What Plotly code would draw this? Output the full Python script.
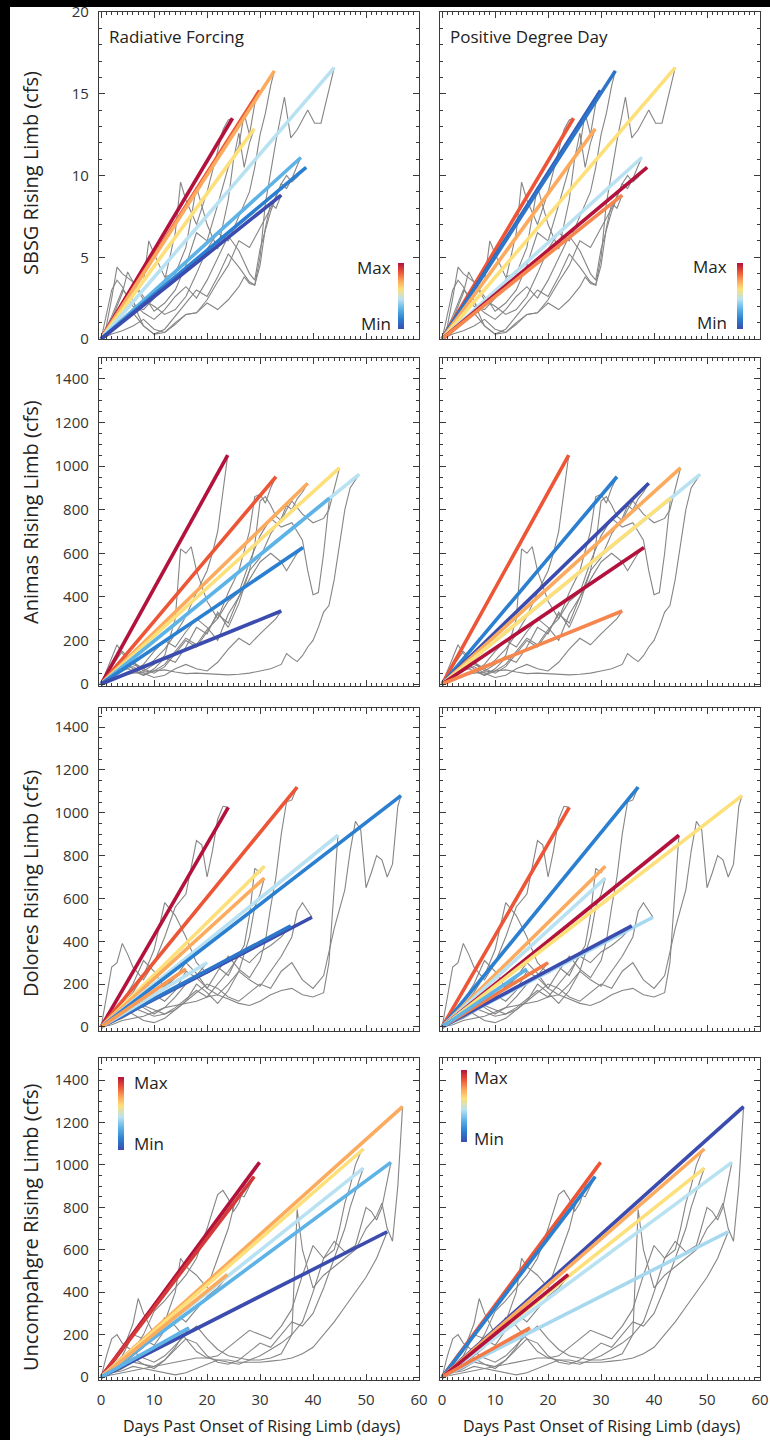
import plotly.graph_objects as go
from plotly.colors import sample_colorscale

W, H = 770, 1440

# ---------------- colour scale (Min -> Max) ----------------
COLORSCALE = [[0.0, '#3b4cae'], [0.15, '#2a7fd0'], [0.30, '#5db2e6'], [0.45, '#b8e2f2'],
              [0.60, '#fde07a'], [0.72, '#fcab5e'], [0.86, '#ec5536'], [1.0, '#b3123c']]

basin_titles = ["SBSG Rising Limb (cfs)", "Animas Rising Limb (cfs)",
                "Dolores Rising Limb (cfs)", "Uncompahgre Rising Limb (cfs)"]
column_titles = ["Radiative Forcing", "Positive Degree Day"]
x_title = "Days Past Onset of Rising Limb (days)"
x_ticks = [0, 10, 20, 30, 40, 50, 60]

# ---------------- SBSG ----------------
sbsg_peak_day = [24.8, 29.9, 32.7, 28.9, 44.0, 37.7, 38.7, 34.0]
sbsg_peak_q = [13.5, 15.2, 16.4, 12.85, 16.6, 11.1, 10.5, 8.8]
sbsg_rf = [1.0, 0.86, 0.72, 0.60, 0.45, 0.30, 0.15, 0.0]
sbsg_pdd = [0.86, 0.05, 0.12, 0.72, 0.60, 0.45, 1.0, 0.78]
sbsg_days = [
    [0, 1, 2, 3, 4, 5, 6, 8, 10, 12, 14, 15, 16, 18, 20, 22, 23, 24, 24.8],
    [0, 1, 2, 3, 4, 6, 8, 9, 10, 12, 14, 16, 18, 20, 22, 24, 26, 27, 28, 29, 29.9],
    [0, 2, 4, 5, 6, 8, 10, 12, 14, 16, 18, 20, 22, 24, 26, 28, 29, 30, 31, 32, 32.7],
    [0, 2, 4, 6, 8, 9, 10, 12, 14, 16, 18, 20, 22, 24, 25, 26, 27, 28, 28.9],
    [0, 2, 4, 6, 8, 10, 12, 14, 16, 18, 20, 22, 24, 26, 28, 29, 30, 31, 33, 34.6, 35.8, 37, 39, 40.3, 41.5, 43, 44],
    [0, 2, 4, 6, 8, 10, 12, 14, 16, 18, 20, 22, 24, 26, 28, 29, 30, 32, 34, 35, 36, 37, 37.7],
    [0, 2, 4, 6, 8, 10, 12, 14, 16, 18, 20, 22, 24, 26, 28, 30, 32, 34, 35, 36, 37, 38, 38.7],
    [0, 2, 4, 6, 7, 8, 10, 12, 14, 16, 18, 20, 22, 24, 26, 27, 28, 29, 30, 31, 32, 33, 34],
]
sbsg_flow = [
    [0, 1.5, 3.0, 3.6, 3.2, 2.5, 2.0, 1.8, 2.5, 3.6, 6.5, 9.6, 8.5, 7.0, 9.0, 11.5, 12.8, 13.4, 13.5],
    [0, 0.8, 2.5, 4.4, 4.0, 3.5, 2.6, 2.2, 1.7, 2.2, 3.0, 4.5, 6.5, 6.0, 8.2, 10.5, 11.8, 13.8, 12.5, 14.4, 15.2],
    [0, 1.2, 2.8, 4.1, 3.5, 2.4, 2.0, 1.5, 1.8, 2.6, 4.0, 5.5, 6.5, 6.0, 7.5, 9.0, 10.5, 12.5, 13.8, 15.5, 16.4],
    [0, 1.0, 1.8, 2.6, 3.5, 6.0, 5.2, 3.8, 4.0, 5.6, 9.3, 7.0, 5.5, 8.5, 11.0, 12.6, 10.5, 12.0, 12.85],
    [0, 0.5, 1.2, 1.6, 0.8, 0.3, 0.6, 1.4, 2.2, 3.0, 2.6, 3.8, 5.2, 4.4, 3.5, 3.3, 5.0, 8.3, 12.1, 14.8, 12.3, 12.8, 14.0, 13.2, 13.2, 15.2, 16.6],
    [0, 0.6, 1.5, 2.2, 1.6, 1.2, 1.8, 2.6, 3.2, 2.5, 3.6, 5.0, 6.3, 5.4, 4.0, 3.6, 5.5, 7.8, 9.5, 9.2, 9.8, 10.6, 11.1],
    [0, 0.3, 0.5, 0.8, 1.2, 0.6, 0.4, 1.0, 1.5, 1.6, 2.4, 3.5, 4.5, 6.0, 5.6, 6.8, 8.0, 9.5, 10.0, 9.6, 9.9, 10.3, 10.5],
    [0, 1.4, 3.0, 2.4, 1.5, 0.8, 0.3, 0.4, 0.9, 1.5, 1.6, 2.2, 1.8, 2.4, 3.2, 3.8, 3.4, 3.3, 4.5, 6.8, 8.3, 8.0, 8.8],
]

# ---------------- Animas ----------------
animas_peak_day = [23.9, 33.0, 39.0, 45.0, 48.7, 43.1, 38.1, 34.0]
animas_peak_q = [1050, 951, 921, 992, 962, 853, 626, 335]
animas_rf = [1.0, 0.86, 0.72, 0.60, 0.45, 0.30, 0.15, 0.0]
animas_pdd = [0.86, 0.15, 0.0, 0.72, 0.45, 0.60, 1.0, 0.78]
animas_days = [
    [0, 1, 2, 3, 4, 6, 8, 10, 12, 14, 16, 18, 20, 21, 22, 23, 23.9],
    [0, 2, 4, 6, 8, 10, 12, 14, 15, 16, 17, 18, 20, 22, 24, 26, 28, 29, 30, 31, 32, 33],
    [0, 2, 4, 6, 8, 10, 12, 14, 16, 18, 20, 22, 24, 26, 28, 30, 32, 34, 35, 36, 37, 38, 39],
    [0, 2, 4, 6, 8, 10, 12, 14, 16, 18, 20, 22, 24, 26, 28, 29, 30, 31, 32, 33, 34, 35, 36, 38, 40, 42, 43, 44, 45],
    [0, 2, 4, 6, 8, 10, 12, 14, 16, 18, 20, 22, 24, 26, 28, 30, 32, 34, 35, 36, 37, 38, 39, 40, 41, 42, 43, 44, 45, 46, 47, 48, 48.7],
    [0, 2, 4, 6, 8, 10, 12, 14, 16, 18, 20, 22, 24, 26, 28, 30, 32, 34, 36, 37, 38, 39, 40, 41, 42, 43.1],
    [0, 2, 4, 6, 8, 10, 12, 14, 16, 18, 20, 22, 24, 26, 28, 30, 32, 34, 35, 36, 37, 38.1],
    [0, 2, 4, 6, 8, 10, 12, 14, 16, 18, 20, 22, 24, 26, 28, 30, 32, 33, 34],
]
animas_flow = [
    [0, 60, 120, 180, 140, 90, 70, 110, 160, 230, 310, 420, 520, 600, 700, 880, 1050],
    [0, 80, 150, 100, 60, 90, 130, 300, 620, 600, 630, 520, 380, 300, 420, 520, 700, 860, 870, 830, 900, 951],
    [0, 30, 60, 100, 70, 50, 80, 140, 200, 170, 240, 320, 280, 400, 520, 580, 690, 760, 820, 800, 850, 880, 921],
    [0, 20, 40, 60, 40, 70, 120, 100, 170, 260, 230, 330, 260, 370, 520, 640, 840, 860, 820, 770, 750, 800, 840, 780, 740, 760, 800, 900, 992],
    [0, 20, 40, 50, 55, 60, 65, 55, 48, 50, 48, 45, 42, 45, 50, 60, 70, 90, 140, 120, 103, 130, 170, 200, 260, 330, 360, 480, 640, 800, 900, 940, 962],
    [0, 50, 110, 70, 40, 60, 90, 150, 210, 180, 250, 300, 380, 420, 560, 680, 760, 720, 740, 700, 660, 520, 410, 420, 600, 853],
    [0, 40, 80, 60, 90, 150, 200, 170, 240, 300, 260, 200, 320, 400, 480, 560, 600, 560, 520, 560, 600, 626],
    [0, 30, 60, 80, 50, 30, 40, 70, 90, 70, 60, 100, 160, 210, 180, 230, 280, 300, 335],
]

# ---------------- Dolores ----------------
dolores_peak_day = [24.0, 37.0, 30.8, 30.8, 44.7, 56.6, 39.8, 35.8, 20.0, 16.0]
dolores_peak_q = [1025, 1120, 750, 695, 895, 1080, 512, 472, 300, 270]
dolores_rf = [1.0, 0.86, 0.60, 0.72, 0.45, 0.15, 0.0, 0.12, 0.45, 0.75]
dolores_pdd = [0.86, 0.15, 0.72, 0.45, 1.0, 0.60, 0.42, 0.0, 0.80, 0.30]
dolores_days = [
    [0, 1, 2, 3, 4, 5, 6, 8, 10, 12, 14, 16, 18, 19, 20, 21, 22, 23, 24],
    [0, 2, 4, 6, 8, 10, 12, 14, 16, 18, 20, 22, 24, 26, 28, 30, 31, 32, 33, 34, 35, 36, 37],
    [0, 2, 4, 6, 8, 10, 12, 14, 16, 18, 20, 22, 24, 26, 27, 28, 29, 30, 30.8],
    [0, 2, 4, 6, 8, 10, 12, 14, 16, 18, 20, 22, 24, 26, 28, 29, 30, 30.8],
    [0, 2, 4, 6, 8, 10, 12, 14, 16, 18, 20, 22, 24, 26, 28, 30, 32, 34, 36, 38, 40, 42, 43, 44, 44.7],
    [0, 2, 4, 6, 8, 10, 12, 14, 16, 18, 20, 22, 24, 26, 28, 30, 32, 34, 36, 38, 40, 42, 44, 46, 47, 48, 49, 50, 51, 52, 53, 54, 55, 56, 56.6],
    [0, 2, 4, 6, 8, 10, 12, 14, 16, 18, 20, 22, 24, 26, 28, 30, 32, 34, 36, 37, 38, 39, 39.8],
    [0, 2, 4, 6, 8, 10, 12, 14, 16, 18, 20, 22, 24, 26, 28, 30, 32, 34, 35, 35.8],
    [0, 2, 4, 6, 8, 10, 12, 14, 16, 18, 19, 20],
    [0, 2, 4, 6, 8, 10, 12, 14, 15, 16],
]
dolores_flow = [
    [0, 150, 280, 300, 390, 340, 280, 220, 300, 420, 560, 620, 870, 850, 700, 820, 970, 1030, 1025],
    [0, 60, 120, 200, 310, 260, 180, 230, 300, 250, 180, 260, 330, 270, 230, 310, 400, 560, 700, 900, 1050, 1060, 1120],
    [0, 50, 100, 160, 240, 360, 580, 520, 420, 300, 250, 280, 240, 340, 380, 520, 740, 720, 750],
    [0, 20, 60, 110, 180, 150, 120, 170, 260, 230, 180, 150, 200, 260, 420, 560, 620, 695],
    [0, 10, 30, 40, 50, 70, 90, 100, 110, 120, 140, 150, 130, 110, 100, 120, 150, 170, 180, 150, 140, 160, 300, 650, 895],
    [0, 30, 60, 90, 70, 50, 60, 80, 120, 160, 200, 180, 140, 120, 160, 200, 180, 260, 300, 220, 180, 240, 460, 640, 820, 960, 920, 650, 720, 800, 780, 700, 760, 1030, 1080],
    [0, 40, 90, 60, 30, 20, 40, 80, 120, 200, 160, 110, 170, 260, 220, 190, 260, 330, 420, 540, 580, 540, 512],
    [0, 20, 40, 70, 100, 80, 60, 90, 130, 170, 140, 200, 260, 330, 300, 350, 380, 420, 450, 472],
    [0, 40, 80, 120, 90, 60, 90, 140, 200, 240, 270, 300],
    [0, 30, 50, 80, 100, 140, 190, 230, 250, 270],
]

# ---------------- Uncompahgre ----------------
unc_peak_day = [29.9, 28.9, 56.9, 49.5, 49.5, 54.7, 54.0, 23.8, 16.6]
unc_peak_q = [1012, 945, 1275, 1075, 985, 1012, 685, 483, 232]
unc_rf = [1.0, 0.92, 0.72, 0.60, 0.45, 0.30, 0.0, 0.72, 0.30]
unc_pdd = [0.86, 0.15, 0.0, 0.72, 0.60, 0.45, 0.42, 1.0, 0.80]
unc_days = [
    [0, 1, 2, 3, 4, 6, 8, 10, 12, 14, 16, 18, 20, 22, 23, 24, 25, 26, 27, 28, 29, 29.9],
    [0, 2, 4, 6, 7, 8, 10, 12, 14, 15, 16, 18, 20, 22, 24, 25, 26, 27, 28, 28.9],
    [0, 2, 4, 6, 8, 10, 12, 14, 16, 18, 20, 22, 24, 26, 28, 30, 32, 34, 36, 37, 38, 40, 42, 44, 46, 48, 50, 52, 53, 54, 55, 56, 56.9],
    [0, 2, 4, 6, 8, 10, 12, 14, 16, 18, 20, 22, 24, 26, 28, 30, 32, 34, 36, 38, 40, 42, 44, 45, 46, 47, 48, 49, 49.5],
    [0, 2, 4, 6, 8, 10, 12, 14, 16, 18, 20, 22, 24, 26, 28, 30, 32, 34, 36, 38, 40, 42, 44, 46, 47, 48, 49, 49.5],
    [0, 2, 4, 6, 8, 10, 12, 14, 16, 18, 20, 22, 24, 26, 28, 30, 32, 34, 36, 38, 40, 42, 44, 46, 48, 50, 51, 52, 53, 54, 54.7],
    [0, 2, 4, 6, 8, 10, 12, 14, 16, 18, 20, 22, 24, 26, 28, 30, 32, 34, 36, 38, 40, 42, 44, 46, 48, 50, 52, 53, 54],
    [0, 2, 4, 6, 8, 10, 12, 14, 16, 18, 20, 22, 23, 23.8],
    [0, 2, 4, 6, 8, 10, 12, 14, 15, 16, 16.6],
]
unc_flow = [
    [0, 100, 180, 200, 160, 120, 200, 310, 360, 420, 480, 560, 700, 860, 880, 840, 780, 820, 900, 950, 990, 1012],
    [0, 60, 120, 250, 370, 300, 200, 260, 400, 560, 520, 480, 420, 560, 700, 800, 860, 850, 900, 945],
    [0, 40, 80, 120, 90, 70, 100, 150, 200, 240, 180, 130, 100, 90, 80, 80, 90, 110, 200, 790, 600, 420, 480, 520, 560, 600, 700, 760, 820, 700, 640, 900, 1275],
    [0, 30, 60, 100, 140, 200, 280, 240, 180, 120, 90, 100, 140, 180, 220, 200, 180, 240, 320, 480, 620, 560, 600, 700, 820, 900, 1000, 1060, 1075],
    [0, 20, 40, 70, 60, 50, 80, 130, 180, 160, 100, 70, 60, 80, 120, 160, 140, 200, 260, 240, 300, 420, 560, 700, 800, 880, 950, 985],
    [0, 20, 30, 50, 40, 30, 20, 10, 20, 40, 60, 80, 70, 60, 80, 100, 130, 160, 200, 260, 400, 560, 640, 590, 620, 800, 780, 740, 800, 920, 1012],
    [0, 10, 20, 30, 40, 50, 60, 70, 80, 90, 90, 80, 80, 70, 70, 70, 75, 80, 90, 110, 140, 200, 260, 330, 400, 470, 560, 620, 685],
    [0, 50, 100, 200, 180, 150, 220, 300, 260, 320, 380, 420, 450, 483],
    [0, 20, 40, 90, 60, 40, 80, 140, 180, 210, 232],
]

basins = [
    (sbsg_days, sbsg_flow, sbsg_peak_day, sbsg_peak_q, sbsg_rf, sbsg_pdd),
    (animas_days, animas_flow, animas_peak_day, animas_peak_q, animas_rf, animas_pdd),
    (dolores_days, dolores_flow, dolores_peak_day, dolores_peak_q, dolores_rf, dolores_pdd),
    (unc_days, unc_flow, unc_peak_day, unc_peak_q, unc_rf, unc_pdd),
]

# ---------------- layout geometry (pixels) ----------------
col_px = [(99, 419), (440, 760)]
row_px = [(12, 339), (358, 686), (708, 1031), (1058, 1380)]
y_ranges = [[0, 20], [-9, 1496], [-19, 1489], [-14, 1504]]
y_dticks = [5, 200, 200, 200]
y_minor = [1, 50, 50, 50]
x_range = [-0.4, 60]

FONT = "Open Sans"
AX_COL = '#3a3a3a'

fig = go.Figure()
layout = dict(
    width=W, height=H, margin=dict(l=0, r=0, t=0, b=0, pad=0, autoexpand=False),
    paper_bgcolor='black', plot_bgcolor='white', showlegend=False,
    font=dict(family=FONT, color='#222'),
)

def px2x(p):
    return p / W

def px2y(p):
    return 1 - p / H

annotations = []
shapes = [dict(type='rect', xref='paper', yref='paper', x0=px2x(10), x1=1.02,
               y0=-0.02, y1=px2y(7), fillcolor='white', line=dict(width=0), layer='below')]

for r, (days, flow, pday, pq, rf, pdd) in enumerate(basins):
    for c in range(2):
        k = r * 2 + c + 1
        xa = 'x' if k == 1 else f'x{k}'
        ya = 'y' if k == 1 else f'y{k}'
        # grey hydrographs
        for d, q in zip(days, flow):
            fig.add_trace(go.Scatter(x=d, y=q, mode='lines', xaxis=xa, yaxis=ya,
                                     line=dict(color='#858585', width=1.1), hoverinfo='skip'))
        vals = rf if c == 0 else pdd
        cols = sample_colorscale(COLORSCALE, vals)
        for xd, yq, col in zip(pday, pq, cols):
            fig.add_trace(go.Scatter(x=[0, xd], y=[0, yq], mode='lines', xaxis=xa, yaxis=ya,
                                     line=dict(color=col, width=3.6), hoverinfo='skip'))
        x0, x1 = col_px[c]
        y0, y1 = row_px[r]
        layout['xaxis' if k == 1 else f'xaxis{k}'] = dict(
            domain=[px2x(x0), px2x(x1)], range=x_range, anchor=ya,
            tickvals=x_ticks, showticklabels=(r == 3), ticks='inside', ticklen=6,
            tickcolor=AX_COL, tickwidth=1, showline=True, linecolor=AX_COL, linewidth=1.4,
            mirror='ticks', showgrid=False, zeroline=False,
            minor=dict(dtick=1, ticklen=3, tickcolor=AX_COL, ticks='inside', showgrid=False),
            tickfont=dict(size=15, family=FONT, color='#333'), ticklabelstandoff=6)
        layout['yaxis' if k == 1 else f'yaxis{k}'] = dict(
            domain=[px2y(y1), px2y(y0)], range=y_ranges[r], anchor=xa,
            dtick=y_dticks[r], tick0=0, showticklabels=(c == 0), ticks='inside', ticklen=6,
            tickcolor=AX_COL, tickwidth=1, showline=True, linecolor=AX_COL, linewidth=1.4,
            mirror='ticks', showgrid=False, zeroline=False,
            minor=dict(dtick=y_minor[r], tick0=0, ticklen=3, tickcolor=AX_COL, ticks='inside', showgrid=False),
            tickfont=dict(size=15, family=FONT, color='#333'), ticklabelstandoff=6)
    # y-axis title
    annotations.append(dict(text=basin_titles[r], xref='paper', yref='paper',
                            x=px2x(30), y=px2y([173, 512, 884, 1227][r]), textangle=-90,
                            showarrow=False, font=dict(size=20, family=FONT, color='#222'),
                            xanchor='center', yanchor='middle'))

# column titles
for c, (xp, txt) in enumerate(zip([107, 448], column_titles)):
    annotations.append(dict(text=txt, xref='paper', yref='paper', x=px2x(xp), y=px2y(36),
                            showarrow=False, xanchor='left', yanchor='middle',
                            font=dict(size=17, family=FONT, color='#222')))

# x-axis titles (at the very bottom of the page)
for xc in [262, 602]:
    annotations.append(dict(text=x_title, xref='paper', yref='paper', x=px2x(xc), y=px2y(1439),
                            showarrow=False, xanchor='center', yanchor='bottom',
                            font=dict(size=16, family=FONT, color='#222')))

# Max / Min colour keys
keys = [
    dict(bx=398, by=263, bl=66, tx=393, ymax=267, ymin=323, side='right'),
    dict(bx=737, by=263, bl=66, tx=729, ymax=266, ymin=322, side='right'),
    dict(bx=118, by=1077, bl=73, tx=132, ymax=1082, ymin=1143, side='left'),
    dict(bx=461, by=1070, bl=72, tx=472, ymax=1077, ymin=1138, side='left'),
]
for kd in keys:
    fig.add_trace(go.Scatter(x=[0], y=[0], mode='markers', xaxis='x', yaxis='y',
                             marker=dict(color=[0.5], colorscale=COLORSCALE, cmin=0, cmax=1,
                                         size=1, opacity=0, showscale=True,
                                         colorbar=dict(x=px2x(kd['bx']), xanchor='left',
                                                       y=px2y(kd['by']), yanchor='top',
                                                       len=kd['bl'], lenmode='pixels',
                                                       thickness=6, thicknessmode='pixels',
                                                       outlinewidth=0, xpad=0, ypad=0,
                                                       showticklabels=False, ticks='')),
                             hoverinfo='skip'))
    for txt, yy in [('Max', kd['ymax']), ('Min', kd['ymin'])]:
        annotations.append(dict(text=txt, xref='paper', yref='paper', x=px2x(kd['tx']), y=px2y(yy),
                                showarrow=False, xanchor=kd['side'], yanchor='middle',
                                font=dict(size=17, family=FONT, color='#222')))

layout['annotations'] = annotations
layout['shapes'] = shapes
fig.update_layout(**layout)
fig.write_html("out.html")
